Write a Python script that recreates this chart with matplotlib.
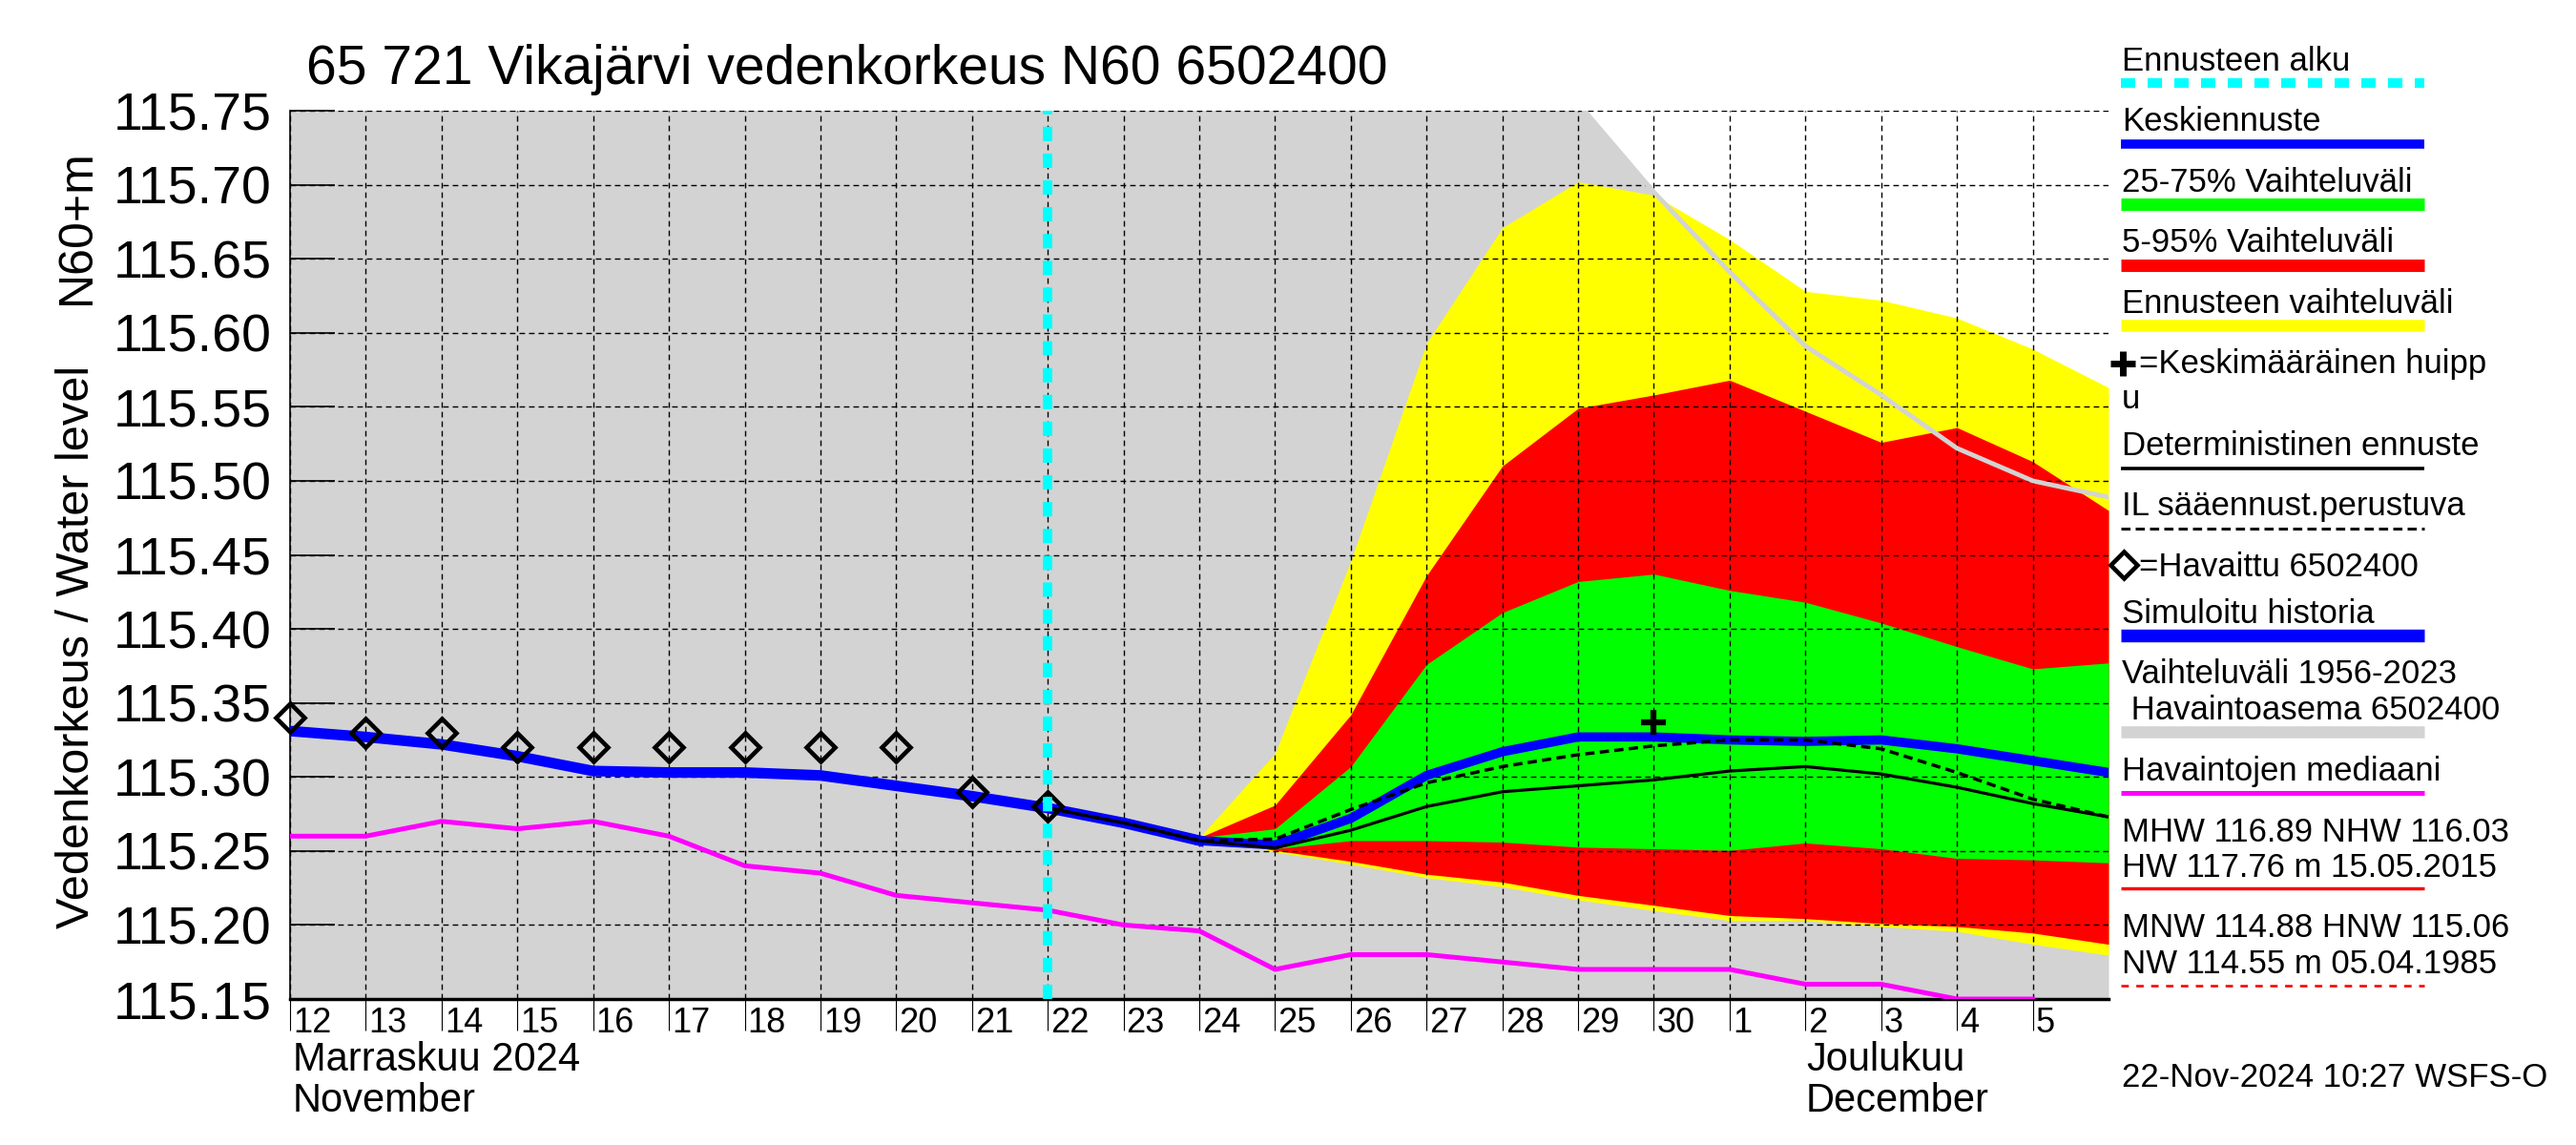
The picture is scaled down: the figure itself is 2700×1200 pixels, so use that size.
import matplotlib
matplotlib.use('Agg')
import matplotlib.pyplot as plt
import matplotlib.transforms as mtransforms
import numpy as np

plt.rcParams['font.family'] = ['Liberation Sans', 'DejaVu Sans']

# x axis: days counted from 12 Nov 2024 00:00
tick_days = list(range(0, 24))
day_labels = ['12', '13', '14', '15', '16', '17', '18', '19', '20', '21', '22', '23',
              '24', '25', '26', '27', '28', '29', '30', '1', '2', '3', '4', '5']
month_start = 19          # 1 Dec
forecast_start = 10       # 22 Nov
y_ticks = [115.15, 115.20, 115.25, 115.30, 115.35, 115.40, 115.45, 115.50,
           115.55, 115.60, 115.65, 115.70, 115.75]

# observed levels (diamonds)
obs_x = [0, 1, 2, 3, 4, 5, 6, 7, 8, 9, 10]
obs_level = [115.34, 115.33, 115.33, 115.32, 115.32, 115.32, 115.32, 115.32, 115.32, 115.29, 115.28]

# simulated history
sim_x = [0, 1, 2, 3, 4, 5, 6, 7, 8, 9, 10, 11, 12]
sim_level = [115.331, 115.327, 115.322, 115.314, 115.304, 115.303, 115.303, 115.301,
             115.294, 115.287, 115.279, 115.269, 115.257]

# forecast bands and median
fc_x = [12, 13, 14, 15, 16, 17, 18, 19, 20, 21, 22, 23, 24]
fc_median = [115.257, 115.254, 115.272, 115.301, 115.317, 115.327, 115.327, 115.325,
             115.324, 115.325, 115.319, 115.311, 115.303]
green_hi = [115.259, 115.265, 115.307, 115.376, 115.411, 115.432, 115.437, 115.426,
            115.418, 115.404, 115.388, 115.373, 115.377]
green_lo = [115.259, 115.2515, 115.257, 115.257, 115.256, 115.2526, 115.2515, 115.2504,
            115.2554, 115.2515, 115.245, 115.244, 115.242]
red_hi = [115.259, 115.281, 115.342, 115.436, 115.510, 115.549, 115.558, 115.568,
          115.547, 115.526, 115.536, 115.513, 115.480]
red_lo = [115.259, 115.2504, 115.243, 115.2343, 115.229, 115.220, 115.2133, 115.2064,
          115.2043, 115.201, 115.199, 115.1946, 115.187]
yellow_hi = [115.259, 115.316, 115.446, 115.593, 115.671, 115.702, 115.693, 115.663,
             115.628, 115.622, 115.610, 115.589, 115.563]
yellow_lo = [115.259, 115.2494, 115.241, 115.232, 115.2258, 115.217, 115.2097, 115.203,
             115.203, 115.199, 115.1957, 115.187, 115.1796]

# deterministic and IL weather based forecasts
det_x = [10, 11, 12, 13, 14, 15, 16, 17, 18, 19, 20, 21, 22, 23, 24]
det_level = [115.279, 115.269, 115.257, 115.252, 115.264, 115.280, 115.290, 115.294,
             115.298, 115.304, 115.307, 115.302, 115.293, 115.282, 115.273]
il_level = [115.279, 115.269, 115.257, 115.258, 115.278, 115.296, 115.307, 115.315,
            115.321, 115.325, 115.325, 115.319, 115.303, 115.285, 115.273]

# mean peak
peak_x = [18]
peak_level = [115.337]

# median of observations
median_x = list(range(0, 24))
median_level = [115.26, 115.26, 115.27, 115.265, 115.27, 115.26, 115.24, 115.235, 115.22,
                115.215, 115.21, 115.20, 115.196, 115.17, 115.18, 115.18, 115.175, 115.17,
                115.17, 115.17, 115.16, 115.16, 115.15, 115.15]

# historical range 1956-2023
hist_x = list(range(0, 25))
hist_hi = [115.80, 115.80, 115.80, 115.80, 115.80, 115.80, 115.80, 115.80, 115.80, 115.80,
           115.80, 115.80, 115.80, 115.80, 115.80, 115.80, 115.80, 115.755, 115.695,
           115.641, 115.591, 115.558, 115.522, 115.500, 115.489]
hist_lo = [115.10] * 25

fig = plt.figure(figsize=(27, 12), dpi=100)
ax = fig.add_axes([304 / 2700, 1 - 1047 / 1200, (2210 - 304) / 2700, (1047 - 116) / 1200])
ax.set_facecolor('white')

ax.fill_between(hist_x, hist_lo, hist_hi, color='#d3d3d3', lw=0, zorder=1)
ax.fill_between(fc_x, yellow_lo, yellow_hi, color='#ffff00', lw=0, zorder=1)
ax.fill_between(fc_x, red_lo, red_hi, color='#ff0000', lw=0, zorder=1)
ax.fill_between(fc_x, green_lo, green_hi, color='#00ff00', lw=0, zorder=1)
ax.plot(hist_x, hist_hi, color='#d3d3d3', lw=3.5, zorder=2)

ax.plot(median_x, median_level, color='#ff00ff', lw=3.6, zorder=3)
ax.plot(sim_x, sim_level, color='#0000ff', lw=8, zorder=3)
ax.plot(fc_x, fc_median, color='#0000ff', lw=7, zorder=3)
ax.plot(det_x, det_level, color='black', lw=2.3, zorder=4)
ax.plot(det_x, il_level, color='black', lw=2.5, dashes=(2.8, 1.6), zorder=4)
ax.plot(obs_x, obs_level, 'D', ms=15, mfc='none', mec='black', mew=3.3, zorder=5, clip_on=False)
ax.plot(peak_x, peak_level, '+', ms=19, mew=4.5, color='black', zorder=5)
ax.axvline(forecast_start, color='#00ffff', lw=7, dashes=(1.55, 1.34), zorder=6)

ax.set_xlim(0, 24)
ax.set_ylim(115.15, 115.75)
ax.set_yticks(y_ticks)
ax.set_yticklabels([f'{v:.2f}' for v in y_ticks])
ax.tick_params(axis='y', direction='in', length=34, width=1.2, pad=14, labelsize=40)
ax.set_xticks(tick_days)
ax.set_xticklabels([])
ax.set_xticks([month_start], minor=True)
ax.tick_params(axis='x', which='major', direction='out', length=24, width=0.8)
ax.tick_params(axis='x', which='minor', direction='out', length=50, width=0.8)
ax.set_axisbelow('line')
ax.grid(True, which='major', color='black', linewidth=1.0, linestyle=(0, (4.2, 3.0)))
ax.spines['top'].set_visible(False)
ax.spines['right'].set_visible(False)
ax.spines['left'].set_linewidth(1.2)
ax.spines['bottom'].set_linewidth(2.5)

# day numbers, left aligned next to their tick
day_trans = mtransforms.blended_transform_factory(ax.transData, fig.transFigure) + \
    mtransforms.ScaledTranslation(3 / 100, 0, fig.dpi_scale_trans)
for d, lab in zip(tick_days, day_labels):
    ax.text(d, 1 - 1082 / 1200, lab, transform=day_trans, fontsize=26,
            ha='left', va='baseline', clip_on=False)

# overlay in pixel coordinates for the surrounding texts and legend
lg = fig.add_axes([0, 0, 1, 1], zorder=10)
lg.set_xlim(0, 2700)
lg.set_ylim(1200, 0)
lg.axis('off')

lg.text(321, 88, '65 721 Vikajärvi vedenkorkeus N60 6502400', fontsize=41, va='baseline')
lg.text(81, 678, 'Vedenkorkeus / Water level', rotation=90, fontsize=35, ha='center', va='center')
lg.text(81, 238, 'N60+m', rotation=90, fontsize=36, ha='center', va='center')
lg.text(307, 1122, 'Marraskuu 2024', fontsize=30, va='baseline')
lg.text(307, 1165, 'November', fontsize=30, va='baseline')
lg.text(1893, 1122, 'Joulukuu', fontsize=30, va='baseline')
lg.text(1893, 1165, 'December', fontsize=30, va='baseline')
lg.text(2224, 1139, '22-Nov-2024 10:27 WSFS-O', fontsize=25, va='baseline')

LX = 2224
BX = [2223, 2541]
leg_texts = [
    ('Ennusteen alku', 73.6, LX),
    ('Keskiennuste', 137.1, LX),
    ('25-75% Vaihteluväli', 200.7, LX),
    ('5-95% Vaihteluväli', 263.9, LX),
    ('Ennusteen vaihteluväli', 327.5, LX),
    ('=Keskimääräinen huipp', 390.7, 2242),
    ('u', 428.2, LX),
    ('Deterministinen ennuste', 477.1, LX),
    ('IL sääennust.perustuva', 540.0, LX),
    ('=Havaittu 6502400', 604.5, 2242),
    ('Simuloitu historia', 653.0, LX),
    ('Vaihteluväli 1956-2023', 716.4, LX),
    (' Havaintoasema 6502400', 753.9, LX),
    ('Havaintojen mediaani', 818.3, LX),
    ('MHW 116.89 NHW 116.03', 881.6, LX),
    ('HW 117.76 m 15.05.2015', 918.7, LX),
    ('MNW 114.88 HNW 115.06', 982.4, LX),
    ('NW 114.55 m 05.04.1985', 1019.5, LX),
]
for txt, yb, xl in leg_texts:
    lg.text(xl, yb, txt, fontsize=25, va='baseline', ha='left')

pt = 72 / 100  # pixels -> points
lg.plot(BX, [87.1, 87.1], color='#00ffff', lw=10 * pt, dashes=(1.5, 1.3), dash_capstyle='butt')
lg.plot(BX, [150.7, 150.7], color='#0000ff', lw=9.6 * pt, solid_capstyle='butt')
lg.plot(BX, [214.3, 214.3], color='#00ff00', lw=13 * pt, solid_capstyle='butt')
lg.plot(BX, [277.9, 277.9], color='#ff0000', lw=13 * pt, solid_capstyle='butt')
lg.plot(BX, [340.7, 340.7], color='#ffff00', lw=12.5 * pt, solid_capstyle='butt')
lg.plot(BX, [490.7, 490.7], color='black', lw=3.6 * pt, solid_capstyle='butt')
lg.plot(BX, [553.9, 553.9], color='black', lw=3 * pt, dashes=(3.2, 1.8), dash_capstyle='butt')
lg.plot(BX, [665.8, 665.8], color='#0000ff', lw=13.4 * pt, solid_capstyle='butt')
lg.plot(BX, [767.4, 767.4], color='#d3d3d3', lw=12.6 * pt, solid_capstyle='butt')
lg.plot(BX, [830.6, 830.6], color='#ff00ff', lw=5 * pt, solid_capstyle='butt')
lg.plot(BX, [931.4, 931.4], color='#ff0000', lw=3.4 * pt, solid_capstyle='butt')
lg.plot(BX, [1033.0, 1033.0], color='#ff0000', lw=2.6 * pt, dashes=(3.0, 3.0), dash_capstyle='butt')
lg.plot([2225], [381], '+', ms=19, mew=5, color='black', clip_on=False)
lg.plot([2226], [592], 'D', ms=14, mfc='none', mec='black', mew=3.3, clip_on=False)

fig.savefig('out.png', dpi=100)
